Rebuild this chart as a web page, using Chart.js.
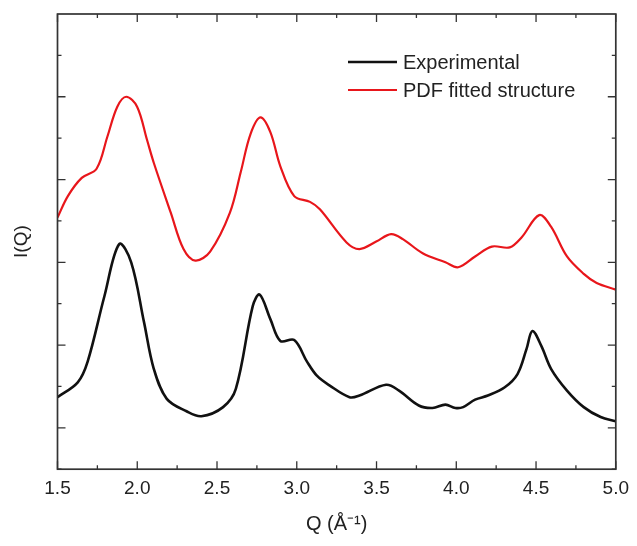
<!DOCTYPE html>
<html>
<head>
<meta charset="utf-8">
<script src="https://cdn.jsdelivr.net/npm/chart.js@4/dist/chart.umd.min.js"></script>
<style>
  html, body { margin: 0; padding: 0; background: #fff; }
  #wrap { width: 637px; height: 546px; }
</style>
</head>
<body>
<div id="wrap"><canvas id="iq"></canvas></div>
<script>
// Experimental I(Q)
const expQ = [1.50, 1.627, 1.689, 1.794, 1.887, 1.962, 2.042, 2.104, 2.185, 2.309, 2.402, 2.538, 2.618, 2.724, 2.767,
    2.835, 2.897, 2.984, 3.064, 3.126, 3.207, 3.331, 3.393, 3.560, 3.641, 3.765, 3.851, 3.932, 3.994, 4.043,
    4.118, 4.198, 4.304, 4.384, 4.440, 4.477, 4.533, 4.595, 4.694, 4.799, 4.905, 5.0];
const expI = [1.37, 1.55, 1.80, 2.59, 3.22, 3.00, 2.28, 1.71, 1.35, 1.20, 1.14, 1.25, 1.47, 2.47, 2.61,
    2.31, 2.05, 2.06, 1.80, 1.63, 1.51, 1.37, 1.39, 1.52, 1.45, 1.27, 1.24, 1.28, 1.24, 1.25,
    1.34, 1.39, 1.49, 1.65, 1.95, 2.17, 1.99, 1.71, 1.45, 1.25, 1.13, 1.08];

// PDF fitted structure I(Q)
const fitQ = [1.50, 1.565, 1.652, 1.745, 1.813, 1.875, 1.931, 1.999, 2.061, 2.104, 2.21, 2.29, 2.364, 2.457, 2.581,
    2.65, 2.71, 2.773, 2.835, 2.897, 2.984, 3.083, 3.145, 3.312, 3.393, 3.498, 3.591, 3.665, 3.789,
    3.932, 4.012, 4.118, 4.223, 4.335, 4.409, 4.520, 4.594, 4.694, 4.799, 4.880, 5.0];
const fitI = [3.54, 3.80, 4.02, 4.13, 4.52, 4.88, 5.00, 4.88, 4.48, 4.20, 3.60, 3.16, 3.02, 3.13, 3.60,
    4.10, 4.55, 4.75, 4.57, 4.16, 3.80, 3.73, 3.64, 3.24, 3.16, 3.25, 3.34, 3.28, 3.11,
    3.00, 2.94, 3.07, 3.19, 3.18, 3.30, 3.57, 3.43, 3.07, 2.86, 2.75, 2.67];

const seriesNames = ['Experimental', 'PDF fitted structure'];
const seriesColors = ['#111111', '#e8161b'];

const xMajor = [1.5, 2.0, 2.5, 3.0, 3.5, 4.0, 4.5, 5.0];
const yMajor = [1, 2, 3, 4, 5];

const FONT = '"Liberation Sans", Arial, sans-serif';
const AXIS_COLOR = '#333';

const toPoints = (xs, ys) => xs.map((x, i) => ({ x: x, y: ys[i] }));

// frame with inward major/minor ticks on all four sides
const framePlugin = {
    id: 'frame',
    afterDraw(chart) {
        const { ctx, chartArea: a, scales: { x, y } } = chart;
        ctx.save();
        ctx.strokeStyle = AXIS_COLOR;
        ctx.lineWidth = 1.7;
        ctx.strokeRect(a.left, a.top, a.right - a.left, a.bottom - a.top);

        ctx.lineWidth = 1.3;
        ctx.beginPath();
        xMajor.forEach((v, i) => {
            const px = x.getPixelForValue(v);
            ctx.moveTo(px, a.bottom); ctx.lineTo(px, a.bottom - 8);
            ctx.moveTo(px, a.top); ctx.lineTo(px, a.top + 8);
            if (i < xMajor.length - 1) {
                const mx = x.getPixelForValue((v + xMajor[i + 1]) / 2);
                ctx.moveTo(mx, a.bottom); ctx.lineTo(mx, a.bottom - 4);
                ctx.moveTo(mx, a.top); ctx.lineTo(mx, a.top + 4);
            }
        });
        const yMinor = [0.5].concat(yMajor.map(v => v + 0.5));
        yMajor.forEach(v => {
            const py = y.getPixelForValue(v);
            ctx.moveTo(a.left, py); ctx.lineTo(a.left + 8, py);
            ctx.moveTo(a.right, py); ctx.lineTo(a.right - 8, py);
        });
        yMinor.forEach(v => {
            const py = y.getPixelForValue(v);
            ctx.moveTo(a.left, py); ctx.lineTo(a.left + 4, py);
            ctx.moveTo(a.right, py); ctx.lineTo(a.right - 4, py);
        });
        ctx.stroke();

        // vertical axis caption
        ctx.fillStyle = '#222';
        ctx.font = '19px ' + FONT;
        ctx.textAlign = 'center';
        ctx.textBaseline = 'middle';
        ctx.translate(22, (a.top + a.bottom) / 2);
        ctx.rotate(-Math.PI / 2);
        ctx.fillText('I(Q)', 0, 0);
        ctx.restore();
    }
};

// line-sample legend in the upper right of the plot
const legendPlugin = {
    id: 'lineLegend',
    afterDraw(chart) {
        const { ctx } = chart;
        ctx.save();
        ctx.font = '20px ' + FONT;
        ctx.textBaseline = 'middle';
        chart.data.datasets.forEach((ds, i) => {
            const yy = 62 + i * 28;
            ctx.strokeStyle = ds.borderColor;
            ctx.lineWidth = ds.borderWidth;
            ctx.beginPath();
            ctx.moveTo(348, yy);
            ctx.lineTo(397, yy);
            ctx.stroke();
            ctx.fillStyle = '#222';
            ctx.fillText(ds.label, 403, yy + 1);
        });
        ctx.restore();
    }
};

new Chart(document.getElementById('iq'), {
    type: 'line',
    data: {
        datasets: [
            {
                label: seriesNames[0],
                data: toPoints(expQ, expI),
                borderColor: seriesColors[0],
                borderWidth: 2.6,
                pointRadius: 0,
                tension: 0.35
            },
            {
                label: seriesNames[1],
                data: toPoints(fitQ, fitI),
                borderColor: seriesColors[1],
                borderWidth: 2.2,
                pointRadius: 0,
                tension: 0.35
            }
        ]
    },
    options: {
        responsive: true,
        maintainAspectRatio: false,
        animation: false,
        layout: { padding: { left: 57.5, top: 14, right: 15, bottom: 0 } },
        plugins: { legend: { display: false }, tooltip: { enabled: false } },
        scales: {
            x: {
                type: 'linear',
                min: 1.5,
                max: 5.0,
                grid: { display: false, drawTicks: false },
                border: { display: false },
                ticks: {
                    stepSize: 0.5,
                    padding: 8,
                    color: '#222',
                    font: { family: FONT, size: 19 },
                    callback: v => v.toFixed(1)
                },
                title: {
                    display: true,
                    text: 'Q (Å⁻¹)',
                    color: '#222',
                    font: { family: FONT, size: 20 },
                    padding: { top: 4, bottom: 10 }
                }
            },
            y: {
                min: 0.5,
                max: 6,
                grid: { display: false, drawTicks: false },
                border: { display: false },
                ticks: { display: false }
            }
        }
    },
    plugins: [framePlugin, legendPlugin]
});
</script>
</body>
</html>
